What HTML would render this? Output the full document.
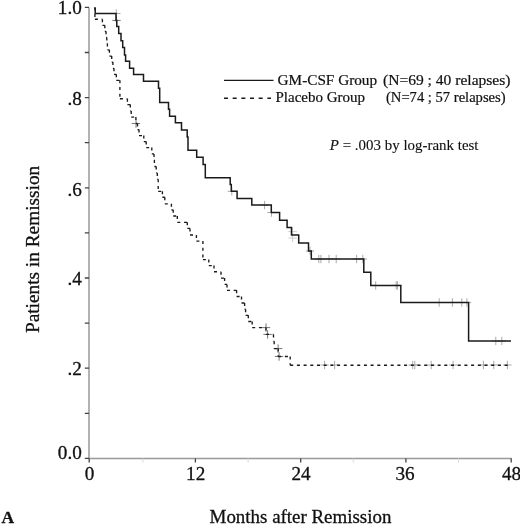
<!DOCTYPE html>
<html><head><meta charset="utf-8"><style>
html,body{margin:0;padding:0;background:#fff;}
body{width:520px;height:524px;overflow:hidden;}
svg{display:block;will-change:transform;}
text{font-family:"Liberation Serif",serif;fill:#111;stroke:#111;stroke-width:0.3px;}
.tk{font-size:19.2px;}
.lg{font-size:14px;stroke-width:0.2px;}
.pv{font-size:14.8px;stroke-width:0.12px;}
.ti{font-size:18.3px;}
.A{font-size:17.5px;font-weight:bold;}
</style></head><body>
<svg width="520" height="524" viewBox="0 0 520 524">
<path d="M89.0 7.4V458.9M88.5 458.4H511.8" stroke="#999" stroke-width="1.5" fill="none"/>
<path d="M84.8 458.4H89 M84.8 413.3H89 M84.8 368.2H89 M84.8 323.1H89 M84.8 278.0H89 M84.8 232.9H89 M84.8 187.8H89 M84.8 142.7H89 M84.8 97.6H89 M84.8 52.5H89 M84.8 7.4H89 M89.2 458.4V462.4 M195.4 458.4V462.4 M300.7 458.4V462.4 M405.9 458.4V462.4 M511.2 458.4V462.4" stroke="#444" stroke-width="1.3" fill="none"/>
<path d="M142.8 458.4V462.4 M248.1 458.4V462.4 M353.3 458.4V462.4 M458.5 458.4V462.4" stroke="#dcdcdc" stroke-width="1.1" fill="none"/>
<path d="M112.1 13.5H120.5M116.3 9.3V17.7 M227.6 191.3H236.0M231.8 187.1V195.5 M260.4 205.1H268.8M264.6 200.9V209.3 M267.3 212.5H275.7M271.5 208.3V216.7 M305.8 251.0H314.2M310.0 246.8V255.2 M314.6 259.0H323.0M318.8 254.8V263.2 M316.7 259.0H325.1M320.9 254.8V263.2 M324.8 259.0H333.2M329.0 254.8V263.2 M332.0 259.0H340.4M336.2 254.8V263.2 M352.4 259.0H360.8M356.6 254.8V263.2 M358.6 259.0H367.0M362.8 254.8V263.2 M371.5 285.4H379.9M375.7 281.2V289.6 M392.0 285.4H400.4M396.2 281.2V289.6 M393.2 285.4H401.6M397.4 281.2V289.6 M435.0 302.5H443.4M439.2 298.3V306.7 M448.2 302.5H456.6M452.4 298.3V306.7 M457.6 302.5H466.0M461.8 298.3V306.7 M462.7 302.5H471.1M466.9 298.3V306.7 M491.6 341.0H500.0M495.8 336.8V345.2 M497.6 341.0H506.0M501.8 336.8V345.2 M320.4 365.0H328.8M324.6 360.8V369.2 M330.4 365.0H338.8M334.6 360.8V369.2 M408.5 365.0H416.9M412.7 360.8V369.2 M410.6 365.0H419.0M414.8 360.8V369.2 M427.0 365.0H435.4M431.2 360.8V369.2 M448.9 365.0H457.3M453.1 360.8V369.2 M479.2 365.0H487.6M483.4 360.8V369.2 M489.6 365.0H498.0M493.8 360.8V369.2 M503.2 365.0H511.6M507.4 360.8V369.2" stroke="#a0a0a0" stroke-width="0.9" fill="none"/>
<path d="M112.3 20.4H120.7M116.5 16.2V24.6 M131.8 123.5H140.2M136.0 119.3V127.7 M261.8 327.6H270.2M266.0 323.4V331.8 M263.4 334.4H271.8M267.6 330.2V338.6 M273.9 348.6H282.3M278.1 344.4V352.8 M274.9 356.5H283.3M279.1 352.3V360.7" stroke="#666" stroke-width="0.9" fill="none"/>
<path d="M288.4 231.6H296.8M292.6 227.4V235.8 M288.4 238.0H296.8M292.6 233.8V242.2" stroke="#c8c8c8" stroke-width="0.9" fill="none"/>
<polyline points="95.2,7.5 95.2,13.5 116.0,13.5 116.0,20.4 116.8,20.4 116.8,26.6 118.7,26.6 118.7,33.6 121.0,33.6 121.0,40.7 122.7,40.7 122.7,47.6 124.5,47.6 124.5,54.9 125.6,54.9 125.6,61.3 129.6,61.3 129.6,68.2 133.6,68.2 133.6,74.6 143.5,74.6 143.5,81.3 158.5,81.3 158.5,88.3 159.7,88.3 159.7,102.4 168.5,102.4 168.5,109.2 169.6,109.2 169.6,116.2 175.4,116.2 175.4,122.8 181.5,122.8 181.5,130.0 187.2,130.0 187.2,136.9 188.0,136.9 188.0,150.2 196.7,150.2 196.7,157.2 203.1,157.2 203.1,164.4 205.3,164.4 205.3,177.7 230.2,177.7 230.2,184.6 231.3,184.6 231.3,191.3 237.1,191.3 237.1,198.4 251.8,198.4 251.8,205.1 271.3,205.1 271.3,212.5 279.6,212.5 279.6,220.2 287.1,220.2 287.1,227.5 291.5,227.5 291.5,235.0 298.7,235.0 298.7,243.0 308.5,243.0 308.5,251.0 311.3,251.0 311.3,259.0 363.8,259.0 363.8,272.3 370.8,272.3 370.8,285.4 400.8,285.4 400.8,302.5 468.6,302.5 468.6,341.0 511.0,341.0" stroke="#1a1a1a" stroke-width="1.5" fill="none"/>
<path d="M94.9 7.2L94.9 19.2M94.9 19.2L102.4 19.2M102.4 19.2L102.4 25.3M102.4 25.3L104.8 25.3M104.8 25.3L104.8 31.3M104.8 31.3L106.0 31.3M106.0 31.3L106.0 37.4M106.0 37.4L106.8 37.4M106.8 37.4L106.8 43.5M106.8 43.5L107.4 43.5M107.4 43.5L107.4 49.8M107.4 49.8L109.4 49.8M109.4 49.8L109.4 56.1M109.4 56.1L111.7 56.1M111.7 56.1L111.7 62.1M111.7 62.1L112.9 62.1M112.9 62.1L112.9 68.3M112.9 68.3L114.0 68.3M114.0 68.3L114.0 74.3M114.0 74.3L116.3 74.3M116.3 74.3L116.3 80.3M116.3 80.3L119.9 80.3M119.9 80.3L119.9 98.7M119.9 98.7L127.4 98.7M127.4 98.7L127.4 104.6M127.4 104.6L130.3 104.6M130.3 104.6L130.3 111.0M130.3 111.0L131.2 111.0M131.2 111.0L131.2 117.1M131.2 117.1L135.9 117.1M135.9 117.1L135.9 123.5M135.9 123.5L137.5 123.5M137.5 123.5L137.5 129.6M137.5 129.6L139.0 129.6M139.0 129.6L139.0 135.6M139.0 135.6L143.8 135.6M143.8 135.6L143.8 141.6M143.8 141.6L146.2 141.6M146.2 141.6L146.2 147.6M146.2 147.6L151.8 147.6M151.8 147.6L151.8 153.9M151.8 153.9L154.0 153.9M154.0 153.9L154.0 160.1M154.0 160.1L154.4 160.1M154.4 160.1L154.4 166.5M154.4 166.5L156.2 166.5M156.2 166.5L156.2 172.9M156.2 172.9L157.3 172.9M157.3 172.9L157.3 179.2M157.3 179.2L158.2 179.2M158.2 179.2L158.2 191.3M158.2 191.3L162.4 191.3M162.4 191.3L162.4 197.2M162.4 197.2L164.8 197.2M164.8 197.2L164.8 203.8M164.8 203.8L171.4 203.8M171.4 203.8L171.4 209.8M171.4 209.8L173.2 209.8M173.2 209.8L173.2 216.0M173.2 216.0L177.3 216.0M177.3 216.0L177.3 222.3M177.3 222.3L187.3 222.3M187.3 222.3L187.3 228.4M187.3 228.4L190.0 228.4M190.0 228.4L190.0 235.0M190.0 235.0L196.4 235.0M196.4 235.0L196.4 241.1M196.4 241.1L202.9 241.1M202.9 241.1L202.9 259.6M202.9 259.6L208.8 259.6M208.8 259.6L208.8 265.6M208.8 265.6L214.0 265.6M214.0 265.6L214.0 271.7M214.0 271.7L221.0 271.7M221.0 271.7L221.0 278.1M221.0 278.1L224.6 278.1M224.6 278.1L224.6 284.4M224.6 284.4L227.0 284.4M227.0 284.4L227.0 290.3M227.0 290.3L236.6 290.3M236.6 290.3L236.6 296.5M236.6 296.5L241.5 296.5M241.5 296.5L241.5 303.0M241.5 303.0L244.6 303.0M244.6 303.0L244.6 309.2M244.6 309.2L245.6 309.2M245.6 309.2L245.6 315.3M245.6 315.3L248.3 315.3M248.3 315.3L248.3 321.5M248.3 321.5L252.2 321.5M252.2 321.5L252.2 327.6M252.2 327.6L266.0 327.6M266.0 327.6L266.0 334.4M266.0 334.4L273.5 334.4M273.5 334.4L273.5 341.3M273.5 341.3L274.2 341.3M274.2 341.3L274.2 348.6M274.2 348.6L278.2 348.6M278.2 348.6L278.2 356.5M278.2 356.5L290.2 356.5M290.2 356.5L290.2 365.2M290.2 365.2L511.0 365.2" stroke="#1a1a1a" stroke-width="1.35" fill="none" stroke-dasharray="3 3.7"/>
<text x="81.8" y="13.7" text-anchor="end" class="tk">1.0</text>
<text x="81.8" y="105.3" text-anchor="end" class="tk">.8</text>
<text x="81.8" y="195.5" text-anchor="end" class="tk">.6</text>
<text x="81.8" y="285.3" text-anchor="end" class="tk">.4</text>
<text x="81.8" y="374.7" text-anchor="end" class="tk">.2</text>
<text x="81.8" y="459.2" text-anchor="end" class="tk">0.0</text>
<text x="89.5" y="480.1" text-anchor="middle" class="tk">0</text>
<text x="195.7" y="480.1" text-anchor="middle" class="tk">12</text>
<text x="301.0" y="480.1" text-anchor="middle" class="tk">24</text>
<text x="405.1" y="480.1" text-anchor="middle" class="tk">36</text>
<text x="511.5" y="480.1" text-anchor="middle" class="tk">48</text>
<path d="M224 80.3H273.5" stroke="#1a1a1a" stroke-width="1.3"/>
<path d="M224 98.3H271" stroke="#1a1a1a" stroke-width="1.4" stroke-dasharray="4 4.67"/>
<text x="277.6" y="84.8" class="lg" textLength="99.5" lengthAdjust="spacingAndGlyphs">GM-CSF Group</text>
<text x="383" y="84.8" class="lg" textLength="127.5" lengthAdjust="spacingAndGlyphs">(N=69 ; 40 relapses)</text>
<text x="275.5" y="102" class="lg" textLength="89.5" lengthAdjust="spacingAndGlyphs">Placebo Group</text>
<text x="386" y="102" class="lg" textLength="119.6" lengthAdjust="spacingAndGlyphs">(N=74 ; 57 relapses)</text>
<text x="329.8" y="149.6" class="pv" textLength="148.7" lengthAdjust="spacingAndGlyphs"><tspan font-style="italic">P</tspan> = .003 by log-rank test</text>
<text x="209.6" y="522.7" class="ti" textLength="181.8" lengthAdjust="spacingAndGlyphs">Months after Remission</text>
<text transform="translate(39.4 333.1) rotate(-90)" x="0" y="0" class="ti" textLength="167.3" lengthAdjust="spacingAndGlyphs">Patients in Remission</text>
<text x="1.6" y="522.8" class="A">A</text>
</svg>
</body></html>
